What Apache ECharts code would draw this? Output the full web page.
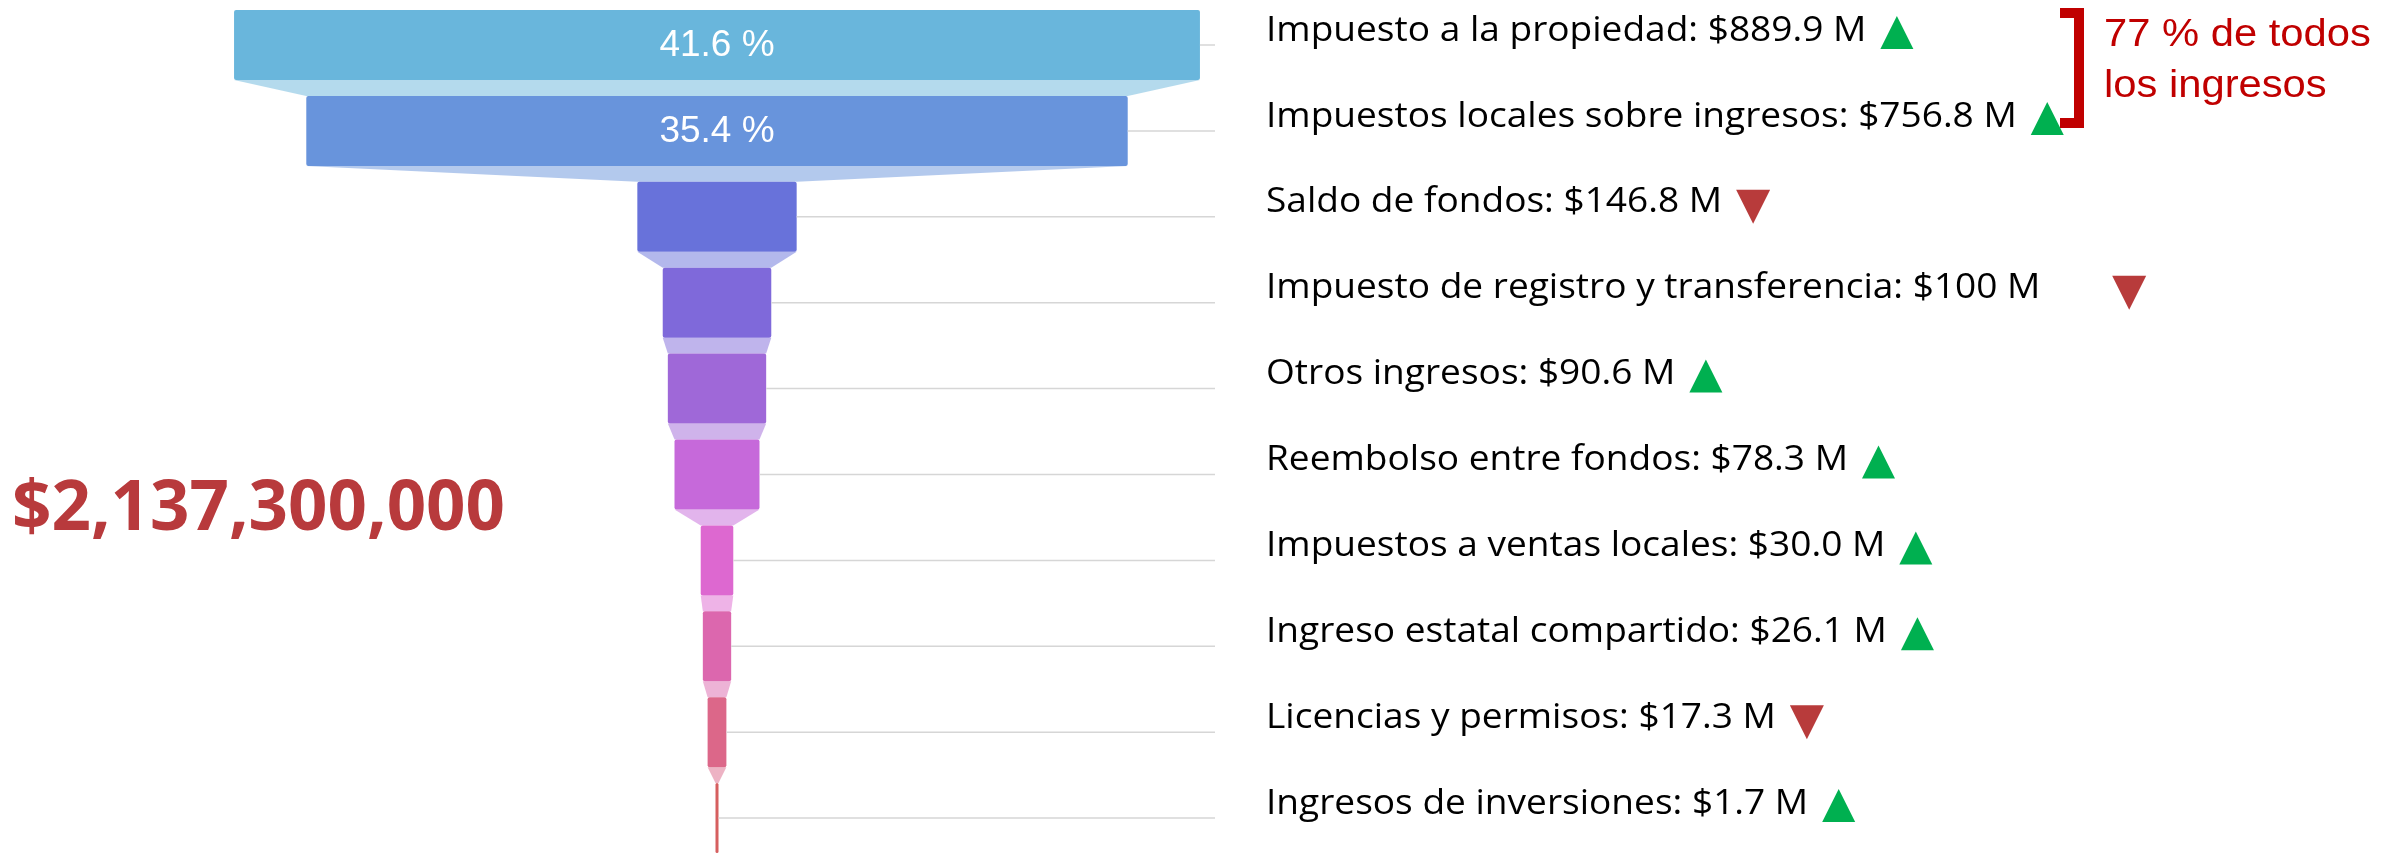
<!DOCTYPE html>
<html><head><meta charset="utf-8">
<script src="https://cdn.jsdelivr.net/npm/echarts@6/dist/echarts.min.js"></script>
<style>html,body{margin:0;padding:0;background:#fff}#c{width:2397px;height:854px}</style>
</head><body><div id="c"></div>
<script>
// ---- data ----
const categories = [
  'Impuesto a la propiedad',
  'Impuestos locales sobre ingresos',
  'Saldo de fondos',
  'Impuesto de registro y transferencia',
  'Otros ingresos',
  'Reembolso entre fondos',
  'Impuestos a ventas locales',
  'Ingreso estatal compartido',
  'Licencias y permisos',
  'Ingresos de inversiones'
];
const values = [889.9, 756.8, 146.8, 100, 90.6, 78.3, 30.0, 26.1, 17.3, 1.7];
const valueLabels = ['$889.9 M', '$756.8 M', '$146.8 M', '$100 M      ', '$90.6 M', '$78.3 M', '$30.0 M', '$26.1 M', '$17.3 M', '$1.7 M'];
const trends = ['up', 'up', 'down', 'down', 'up', 'up', 'up', 'up', 'down', 'up'];
const total = 2137.3;
const totalLabel = '$2,137,300,000';
const topGroupCount = 2;

// ---- styles ----
const barColors = ['#69b6dc', '#6894dc', '#6872da', '#7f69da', '#9f68d8', '#c669da', '#dd68d0', '#dc67ae', '#dc6789', '#d65f5f'];
const upColor = '#00b050', downColor = '#b83b3b', noteColor = '#c00000';
const labelFont = '34px "Open Sans"';
const labelScale = 1.09;
const xHalf = 445;

const mctx = document.createElement('canvas').getContext('2d');
function textWidth(str, font) { mctx.font = font; return mctx.measureText(str).width; }

function renderItem(params, api) {
  const i = params.dataIndex;
  const v = api.value(0);
  const n = values.length;
  const band = api.size([0, 1])[1];
  const barH = band * 0.815;
  const cy = api.coord([0, i])[1];
  const color = barColors[i % barColors.length];
  function edges(val, idx) {
    const l = api.coord([-val / 2, idx])[0], r = api.coord([val / 2, idx])[0];
    const w = Math.max(r - l, 3), c = (l + r) / 2;
    return [c - w / 2, c + w / 2];
  }
  const [l, r] = edges(v, i);
  const children = [];
  if (i < n - 1) {
    const [nl, nr] = edges(values[i + 1], i + 1);
    const ny = api.coord([0, i + 1])[1];
    children.push({ type: 'polygon', shape: { points: [[l, cy + barH / 2], [r, cy + barH / 2], [nr, ny - barH / 2], [nl, ny - barH / 2]] },
      style: { fill: color, opacity: 0.5 } });
  }
  children.push({ type: 'rect', shape: { x: l, y: cy - barH / 2, width: r - l, height: barH, r: 2 }, style: { fill: color } });
  const xEnd = api.coord([xHalf, i])[0];
  children.push({ type: 'line', shape: { x1: r, y1: cy, x2: xEnd + 15, y2: cy }, style: { stroke: '#d6d6d6', lineWidth: 1.5 } });
  if (r - l > 300) {
    children.push({ type: 'text', x: (l + r) / 2, y: cy + 1,
      style: { text: (v / total * 100).toFixed(1) + ' %', font: '37px "Liberation Sans"', fill: '#fff', align: 'center', verticalAlign: 'middle' } });
  }
  const label = categories[i] + ': ' + valueLabels[i];
  const lx = xEnd + 66;
  children.push({ type: 'text', x: lx, y: cy - 14, scaleX: labelScale,
    style: { text: label, font: labelFont, fill: '#000', align: 'left', verticalAlign: 'middle' } });
  const tx = lx + textWidth(label, labelFont) * labelScale + 14;
  if (trends[i] === 'up') {
    children.push({ type: 'polygon', shape: { points: [[tx, cy + 4], [tx + 33, cy + 4], [tx + 16.5, cy - 29]] }, style: { fill: upColor } });
  } else {
    children.push({ type: 'polygon', shape: { points: [[tx, cy - 27], [tx + 34, cy - 27], [tx + 17, cy + 7]] }, style: { fill: downColor } });
  }
  return { type: 'group', children };
}

const topShare = Math.round(values.slice(0, topGroupCount).reduce((a, b) => a + b, 0) / total * 100);

const chart = echarts.init(document.getElementById('c'), null, { renderer: 'canvas' });
chart.setOption({
  backgroundColor: '#fff',
  animation: false,
  grid: { left: 234, width: 966, top: 0, bottom: 0 },
  xAxis: { type: 'value', min: -xHalf, max: xHalf, show: false },
  yAxis: { type: 'value', inverse: true, min: -0.524, max: 9.418, show: false },
  series: [{
    type: 'custom',
    renderItem,
    data: values.map((v, i) => [v, i]),
    encode: { x: 0, y: 1 }
  }],
  graphic: [
    { type: 'text', x: 12, y: 510, style: { text: totalLabel, font: 'bold 69px "Open Sans"', fill: '#b83a3c', verticalAlign: 'middle' } },
    { type: 'polyline', shape: { points: [[2060, 13], [2079, 13], [2079, 123], [2060, 123]] },
      style: { stroke: noteColor, lineWidth: 10, fill: null, lineJoin: 'miter' } },
    { type: 'text', x: 2104, y: 35, scaleX: 1.07, style: { text: topShare + ' % de todos', font: '39px "Liberation Sans"', fill: noteColor, verticalAlign: 'middle' } },
    { type: 'text', x: 2104, y: 86, scaleX: 1.07, style: { text: 'los ingresos', font: '39px "Liberation Sans"', fill: noteColor, verticalAlign: 'middle' } }
  ]
});
</script></body></html>
